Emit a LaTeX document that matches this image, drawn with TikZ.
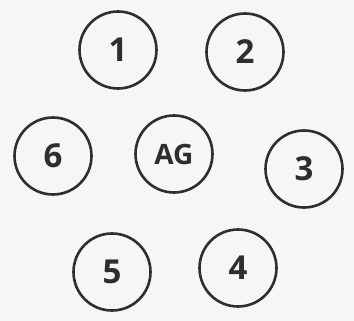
\documentclass[tikz,border=0pt]{standalone}
\usepackage{fontspec}
\setsansfont{Open Sans}
\usepackage{tikz}
\usetikzlibrary{positioning}
\definecolor{ink}{HTML}{2E2E2E}
\definecolor{paper}{HTML}{F6F6F6}

\begin{document}
\begin{tikzpicture}[
  x=1pt, y=-1pt,
  font=\sffamily\bfseries\fontsize{33}{36}\selectfont,
  seat/.style={circle, draw=ink, line width=2.6pt, text=ink,
               minimum size=77pt, inner sep=0pt}
]
\fill[paper] (0,0) rectangle (354,321);
\useasboundingbox (0,0) rectangle (354,321);
\node[seat] (ag) at (174,154) {\fontsize{28}{30}\selectfont AG};
\node[seat] (s1) at (118,50) {1};
\node[seat] (s2) at (245,52) {2};
\node[seat] (s3) at (304,169) {3};
\node[seat] (s4) at (238,268) {4};
\node[seat] (s5) at (112,272) {5};
\node[seat] (s6) at (53,156) {6};
\end{tikzpicture}
\end{document}
